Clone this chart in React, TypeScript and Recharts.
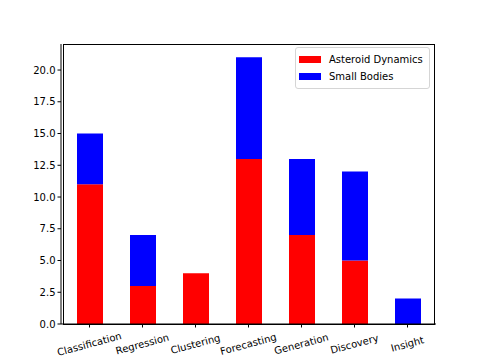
import React from 'react'
import { BarChart, Bar, XAxis, YAxis, Legend, ReferenceArea } from 'recharts'

const categories = ['Classification', 'Regression', 'Clustering', 'Forecasting', 'Generation', 'Discovery', 'Insight']
const asteroidDynamics = [11, 3, 4, 13, 7, 5, 0]
const smallBodies = [4, 4, 0, 8, 6, 7, 2]
const yTicks = [0, 2.5, 5, 7.5, 10, 12.5, 15, 17.5, 20]

const data = categories.map((name, i) => ({
  name,
  asteroid: asteroidDynamics[i],
  small: smallBodies[i],
}))

const font = 'DejaVu Sans, sans-serif'

const RotatedTick = (props: any) => {
  const { x, y, payload } = props
  return (
    <g transform={`translate(${x},${y + 15})`}>
      <text transform="rotate(-15)" textAnchor="middle" dominantBaseline="middle" fontSize={10} fontFamily={font} fill="#000">
        {payload.value}
      </text>
    </g>
  )
}

const LegendBox = () => (
  <div style={{ border: '1px solid #d5d5d5', borderRadius: 3, background: '#fff', padding: '3px 6px 3px 3px', fontFamily: font, fontSize: 10, lineHeight: '17px' }}>
    {[['Asteroid Dynamics', '#ff0000'], ['Small Bodies', '#0000ff']].map(([label, color]) => (
      <div key={label} style={{ display: 'flex', alignItems: 'center' }}>
        <span style={{ display: 'inline-block', width: 22, height: 7, background: color, marginRight: 8 }} />
        <span>{label}</span>
      </div>
    ))}
  </div>
)

export default function App() {
  return (
    <div style={{ position: 'absolute', left: 0, top: 0, width: 485, height: 364, background: '#fff' }}>
      <BarChart width={485} height={364} data={data} margin={{ top: 44, right: 49, bottom: 0, left: 0 }}>
        <XAxis dataKey="name" height={40} interval={0} tick={<RotatedTick />} tickSize={3.5} stroke="#000" padding={{ left: 2, right: 2 }} />
        <YAxis width={61} domain={[0, 22.05]} ticks={yTicks} tickFormatter={(v: number) => v.toFixed(1)} tickSize={3.5} stroke="#000"
          tick={{ fontSize: 10, fontFamily: font, fill: '#000' }} allowDataOverflow />
        <Legend content={<LegendBox />} layout="horizontal" verticalAlign="middle" align="center"
          wrapperStyle={{ position: 'absolute', left: 295, top: 47, width: 'auto' }} />
        <Bar dataKey="asteroid" stackId="a" fill="#ff0000" barSize={26} isAnimationActive={false} />
        <Bar dataKey="small" stackId="a" fill="#0000ff" barSize={26} isAnimationActive={false} />
        <ReferenceArea y1={0} y2={22.05} fill="none" stroke="#000" strokeWidth={1} fillOpacity={0} strokeOpacity={1}
          shapeRendering="crispEdges" ifOverflow="visible" />
      </BarChart>
    </div>
  )
}
